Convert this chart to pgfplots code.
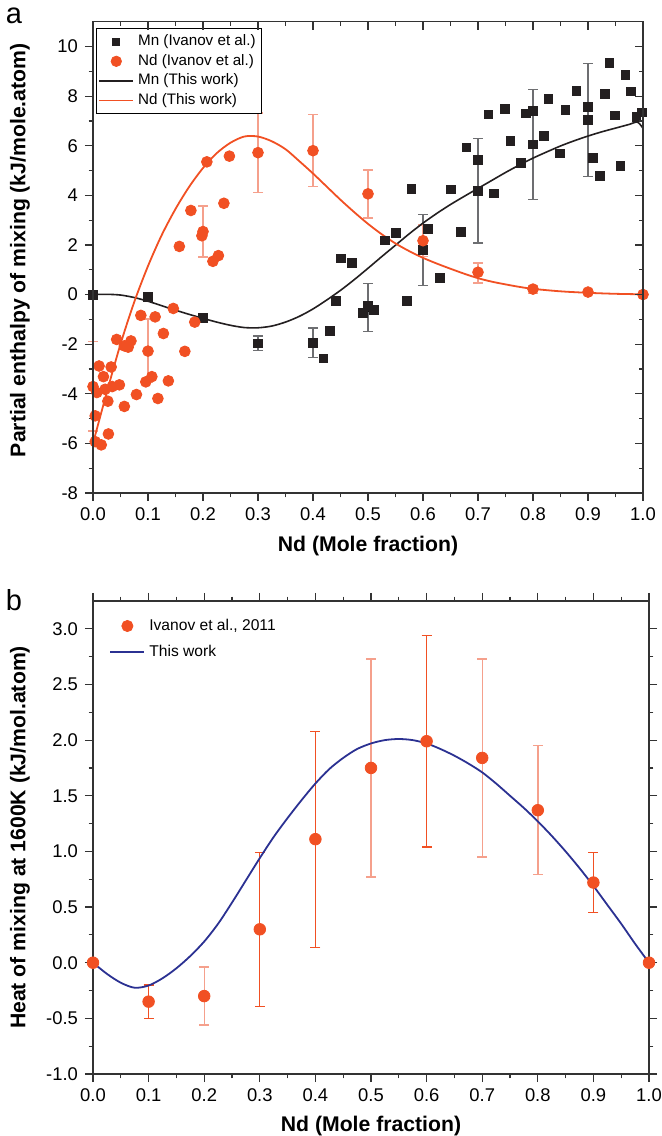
\documentclass[border=0pt]{standalone}
\usepackage{fontspec}
\setmainfont{Liberation Sans}
\usepackage{pgfplots}
\pgfplotsset{compat=1.18}
\usepackage{pgfplotstable}

\definecolor{ndred}{HTML}{F15023}
\definecolor{ndlight}{HTML}{F5A08C}
\definecolor{mnblack}{HTML}{231F20}
\definecolor{mngrey}{HTML}{6D6E71}
\definecolor{curveblue}{HTML}{2B3192}
\definecolor{axisgrey}{HTML}{333333}

% ---------- panel a ----------
\pgfplotstableread{
x y
0 0
0.1 -0.09
0.2 -0.94
0.3 -1.97
0.4 -1.95
0.419 -2.57
0.43 -1.46
0.441 -0.27
0.451 1.46
0.47 1.26
0.491 -0.74
0.5 -0.47
0.51 -0.63
0.53 2.18
0.551 2.48
0.57 -0.27
0.579 4.26
0.6 1.81
0.609 2.64
0.63 0.68
0.65 4.24
0.669 2.52
0.679 5.93
0.7 5.42
0.7 4.18
0.719 7.26
0.729 4.08
0.749 7.48
0.759 6.2
0.778 5.31
0.787 7.3
0.8 7.39
0.8 6.05
0.82 6.39
0.828 7.9
0.849 5.69
0.859 7.46
0.879 8.22
0.9 7.56
0.9 7.05
0.909 5.51
0.921 4.78
0.93 8.1
0.939 9.33
0.949 7.22
0.959 5.19
0.968 8.86
0.978 8.19
0.988 7.16
0.998 7.34
}\mnpts

\pgfplotstableread{
x y e
0.3 -1.97 0.3
0.4 -1.95 0.6
0.5 -0.52 0.98
0.6 1.79 1.43
0.7 4.18 2.1
0.8 6.05 2.23
0.9 7.05 2.28
}\mnerr

\pgfplotstableread{
x y
0.0 -3.71
0.004 -4.89
0.004 -5.93
0.007 -3.95
0.011 -2.88
0.015 -6.06
0.019 -3.31
0.022 -3.82
0.027 -4.3
0.028 -5.62
0.033 -2.92
0.035 -3.71
0.043 -1.81
0.048 -3.64
0.057 -2.07
0.057 -4.51
0.064 -2.12
0.069 -1.87
0.079 -4.03
0.087 -0.84
0.096 -3.52
0.1 -2.28
0.107 -3.31
0.113 -0.9
0.118 -4.19
0.128 -1.57
0.137 -3.48
0.146 -0.56
0.157 1.94
0.167 -2.29
0.178 3.39
0.185 -1.11
0.198 2.37
0.2 2.54
0.207 5.35
0.218 1.34
0.228 1.57
0.238 3.68
0.248 5.58
0.3 5.72
0.4 5.8
0.5 4.06
0.6 2.17
0.7 0.9
0.8 0.22
0.9 0.1
1.0 0.0
}\ndpts

\pgfplotstableread{
x y e
0.0 -3.7 1.8
0.1 -2.27 1.28
0.2 2.54 1.03
0.3 5.72 1.6
0.4 5.8 1.45
0.5 4.05 0.97
0.6 2.17 0.64
0.7 0.87 0.4
0.8 0.2 0.15
}\nderr

\pgfplotstableread{
x y
0 0.0
0.025 0.01
0.05 -0.02
0.075 -0.12
0.1 -0.27
0.125 -0.45
0.15 -0.63
0.175 -0.8
0.2 -0.96
0.225 -1.11
0.25 -1.24
0.275 -1.33
0.3 -1.34
0.325 -1.27
0.35 -1.11
0.375 -0.88
0.4 -0.58
0.425 -0.22
0.45 0.17
0.475 0.6
0.5 1.06
0.525 1.53
0.55 1.99
0.575 2.45
0.6 2.88
0.625 3.27
0.65 3.63
0.675 3.96
0.7 4.28
0.725 4.6
0.75 4.92
0.775 5.22
0.8 5.5
0.825 5.75
0.85 5.99
0.875 6.2
0.9 6.39
0.925 6.56
0.95 6.71
0.975 6.86
0.99 6.95
1.0 6.7
}\mncurve

\pgfplotstableread{
x y
0 -6.0
0.025 -3.95
0.05 -2.0
0.075 -0.3
0.1 1.15
0.125 2.4
0.15 3.45
0.175 4.35
0.2 5.1
0.225 5.7
0.25 6.12
0.275 6.37
0.3 6.37
0.325 6.18
0.35 5.86
0.375 5.38
0.4 4.88
0.425 4.35
0.45 3.82
0.475 3.32
0.5 2.85
0.525 2.43
0.55 2.06
0.575 1.75
0.6 1.48
0.625 1.25
0.65 1.04
0.675 0.84
0.7 0.66
0.725 0.52
0.75 0.41
0.775 0.31
0.8 0.23
0.85 0.13
0.9 0.07
0.95 0.03
1.0 0.01
}\ndcurve

% ---------- panel b ----------
\pgfplotstableread{
x y
0 0
0.1 -0.35
0.2 -0.30
0.3 0.30
0.4 1.11
0.5 1.75
0.6 1.99
0.7 1.84
0.8 1.37
0.9 0.72
1.0 0.0
}\bpts

\pgfplotstableread{
x y e
0.1 -0.35 0.15
0.3 0.30 0.69
0.4 1.11 0.97
0.6 1.99 0.95
0.9 0.72 0.27
}\berrA

\pgfplotstableread{
x y e
0.2 -0.30 0.26
0.5 1.75 0.98
0.7 1.84 0.89
0.8 1.37 0.58
}\berrB

\pgfplotstableread{
x y
0 0
0.025 -0.1
0.05 -0.18
0.075 -0.225
0.1 -0.205
0.125 -0.14
0.15 -0.05
0.175 0.06
0.2 0.19
0.225 0.35
0.25 0.54
0.275 0.74
0.3 0.94
0.325 1.13
0.35 1.30
0.375 1.46
0.4 1.61
0.425 1.74
0.45 1.84
0.475 1.92
0.5 1.97
0.525 2.0
0.55 2.01
0.575 2.0
0.6 1.97
0.625 1.92
0.65 1.86
0.675 1.79
0.7 1.71
0.725 1.61
0.75 1.50
0.775 1.39
0.8 1.27
0.825 1.14
0.85 1.0
0.875 0.85
0.9 0.69
0.925 0.52
0.95 0.35
0.975 0.17
1.0 0.0
}\bcurve

\pgfplotsset{
  common/.style={
    scale only axis,
    clip=false,
    /pgf/number format/assume math mode=true,
    tick label style={font=\fontsize{9.2}{10}\selectfont, color=black},
    label style={font=\bfseries\fontsize{10.6}{12}\selectfont},
    axis line style={axisgrey, line width=0.6pt},
    tick style={axisgrey, line width=0.6pt},
    major tick length=4pt,
    minor tick length=2.2pt,
    xmin=0, xmax=1,
    xtick={0,0.1,...,1.0},
    minor x tick num=1,
    minor y tick num=1,
    xticklabel style={/pgf/number format/.cd, fixed, fixed zerofill, precision=1},
  }
}

\begin{document}
\begin{tikzpicture}
\useasboundingbox (0pt,0pt) rectangle (330.5pt,568pt);

% ================= panel a =================
\begin{axis}[common,
  at={(46.5pt,321.5pt)}, anchor=south west,
  width=275pt, height=235.65pt,
  ymin=-8, ymax=11,
  ytick={-8,-6,...,10},
  tick align=outside,
  xtick pos=left, ytick pos=left,
  xlabel={Nd (Mole fraction)},
  ylabel={Partial enthalpy of mixing (kJ/mole.atom)},
  xlabel style={at={(axis description cs:0.5,-0.1125)}, anchor=center},
  ylabel style={at={(axis description cs:-0.1327,0.515)}, anchor=center},
  legend style={at={(0.0055,0.986)}, anchor=north west, draw=black, line width=0.4pt,
    font=\fontsize{7.6}{8.9}\selectfont, inner sep=1pt, row sep=-1.2pt,
    cells={anchor=west}},
]
\addlegendimage{only marks, mark=square*, mark size=1.8pt, mnblack}
\addlegendentry{Mn (Ivanov et al.)}
\addlegendimage{only marks, mark=*, mark size=2.6pt, ndred}
\addlegendentry{Nd (Ivanov et al.)}
\addlegendimage{mnblack, line width=0.8pt}
\addlegendentry{Mn (This work)}
\addlegendimage{ndred, line width=0.8pt}
\addlegendentry{Nd (This work)}

\addplot[only marks, mark=none, forget plot,
  error bars/.cd, y dir=both, y explicit, error mark=|,
  error bar style={mngrey, line width=0.6pt},
  error mark options={mngrey, mark size=2.5pt, line width=0.6pt}]
  table[x=x, y=y, y error=e]{\mnerr};
\addplot[only marks, mark=none, forget plot,
  error bars/.cd, y dir=both, y explicit, error mark=|,
  error bar style={ndlight, line width=0.7pt},
  error mark options={ndlight, mark size=2.5pt, line width=0.7pt}]
  table[x=x, y=y, y error=e]{\nderr};

\addplot[mnblack, line width=0.8pt, smooth, tension=0.5, forget plot] table[x=x,y=y]{\mncurve};
\addplot[ndred, line width=0.9pt, smooth, tension=0.5, forget plot] table[x=x,y=y]{\ndcurve};

\addplot[only marks, mark=square*, mark size=2.2pt, mnblack, forget plot] table[x=x,y=y]{\mnpts};
\addplot[only marks, mark=*, mark size=2.7pt, ndred, forget plot] table[x=x,y=y]{\ndpts};
\end{axis}

% overlay for inward top/right ticks
\begin{axis}[common,
  at={(46.5pt,321.5pt)}, anchor=south west,
  width=275pt, height=235.65pt,
  ymin=-8, ymax=11,
  ytick={-8,-6,...,10},
  tick align=inside,
  xtick pos=right, ytick pos=right,
  xticklabels={}, yticklabels={},
]
\end{axis}

% ================= panel b =================
\begin{axis}[common,
  at={(46.5pt,31pt)}, anchor=south west,
  width=278pt, height=236.5pt,
  ymin=-1, ymax=3.25,
  ytick={-1,-0.5,...,3.0},
  tick align=outside,
  yticklabel style={/pgf/number format/.cd, fixed, fixed zerofill, precision=1},
  xlabel={Nd (Mole fraction)},
  ylabel={Heat of mixing at 1600K (kJ/mol.atom)},
  xlabel style={at={(axis description cs:0.5,-0.11)}, anchor=center},
  ylabel style={at={(axis description cs:-0.1312,0.5)}, anchor=center},
  legend style={at={(0.018,0.98)}, anchor=north west, draw=none, fill=none,
    font=\fontsize{7.8}{9}\selectfont, row sep=2pt, cells={anchor=west}},
]
\addlegendimage{only marks, mark=*, mark size=2.8pt, ndred}
\addlegendentry{Ivanov et al., 2011}
\addlegendimage{curveblue, line width=0.9pt}
\addlegendentry{This work}

\addplot[only marks, mark=none, forget plot,
  error bars/.cd, y dir=both, y explicit, error mark=|,
  error bar style={ndred, line width=0.6pt},
  error mark options={ndred, mark size=2.5pt, line width=0.6pt}]
  table[x=x, y=y, y error=e]{\berrA};
\addplot[only marks, mark=none, forget plot,
  error bars/.cd, y dir=both, y explicit, error mark=|,
  error bar style={ndlight, line width=0.7pt},
  error mark options={ndlight, mark size=2.5pt, line width=0.7pt}]
  table[x=x, y=y, y error=e]{\berrB};

\addplot[curveblue, line width=0.9pt, smooth, tension=0.5, forget plot] table[x=x,y=y]{\bcurve};
\addplot[only marks, mark=*, mark size=2.9pt, ndred, forget plot] table[x=x,y=y]{\bpts};
\end{axis}

\node[font=\fontsize{14.5}{16}\selectfont, anchor=center] at (7pt,560pt) {a};
\node[font=\fontsize{14.5}{16}\selectfont, anchor=center] at (7pt,268pt) {b};
\end{tikzpicture}
\end{document}
